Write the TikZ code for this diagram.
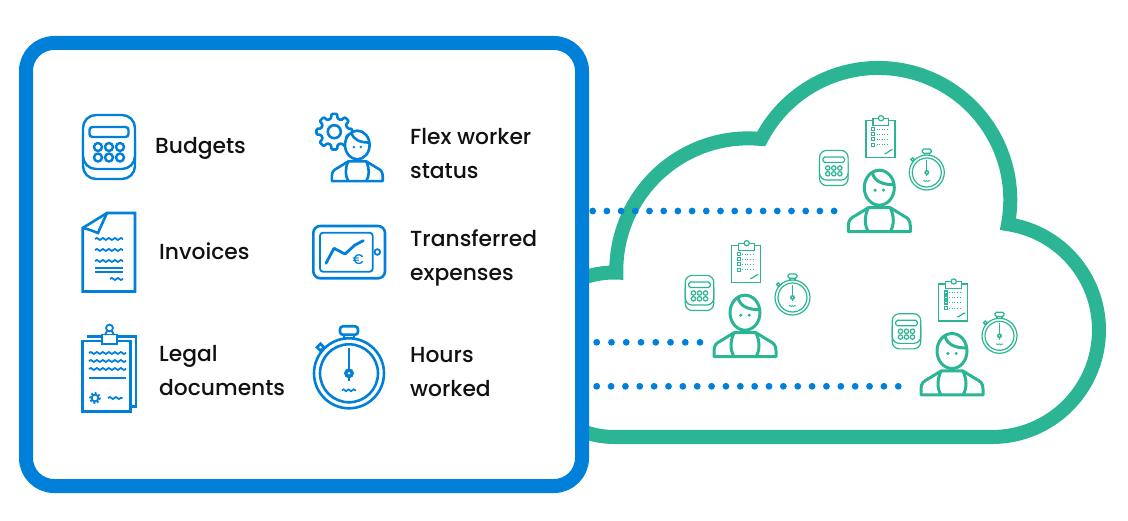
\documentclass[tikz,border=0pt]{standalone}
\usepackage{fontspec}
\setmainfont{Poppins Medium}
\usetikzlibrary{decorations.pathmorphing}
\definecolor{boxblue}{HTML}{0080D8}
\definecolor{cloudgreen}{HTML}{2BB594}
\definecolor{labelink}{HTML}{111111}
\tikzset{
  labeltext/.style={inner sep=0pt, align=left, anchor=west, text=labelink, font=\fontsize{21.8}{34}\selectfont},
  wavy/.style={decorate, decoration={snake, amplitude=1pt, segment length=6pt}},
  dotrow/.style={draw=boxblue, line width=6.8pt, line cap=round},
  blueicon/.style={color=boxblue, line width=2.6pt},
  calcicon/.pic={
    \draw[fill=white, rounded corners=#1*13pt] (-26,-20) rectangle (26,32);
    \draw[fill=white, rounded corners=#1*13pt] (-26,-32) rectangle (26,22);
    \draw[rounded corners=#1*3pt] (-19.5,-20) rectangle (19.5,-10);
    \draw (-11,0) circle[radius=4];
    \draw (0,0) circle[radius=4];
    \draw (11,0) circle[radius=4];
    \draw (-11,10.5) circle[radius=4];
    \draw (0,10.5) circle[radius=4];
    \draw (11,10.5) circle[radius=4];
  },
  watchicon/.pic={
    \draw (0,0) circle[radius=35];
    \draw (0,0) circle[radius=29];
    \draw[rounded corners=#1*3pt] (-9,-47) rectangle (9,-38.5);
    \draw (-5,-38.5) -- (-5,-35.5) (5,-38.5) -- (5,-35.5);
    \draw[rotate around={45:(-28.5,-26)}] (-31,-28.5) rectangle (-26,-23.5);
    \draw (0,-25) -- (0,8);
    \fill (0,0) circle[radius=5];
    \fill[white] (0,0) circle[radius=1.4];
    \draw[wavy, line width=#1*1.6pt, decoration={amplitude=#1*1pt, segment length=#1*5pt}] (-7,17) -- (7,17);
  },
  gearicon/.pic={
    \draw[line join=round, rounded corners=1pt] (-14:13.5) \foreach \gearangle in {0,45,...,315} { -- (\gearangle-14:13.5) -- (\gearangle-9:18) -- (\gearangle+9:18) -- (\gearangle+14:13.5) } -- cycle;
    \draw (0,0) circle[radius=6.5];
  },
  personicon/.pic={
    \draw[fill=white, line join=round] (-31,44) -- (-31,38) .. controls (-31,32) and (-28,30) .. (-24,28) -- (-11,20) -- (11,20) -- (24,28) .. controls (28,30) and (31,32) .. (31,38) -- (31,44) -- cycle;
    \draw (-11,20) .. controls (-15,29) and (-15,37) .. (-11,44);
    \draw (11,20) .. controls (15,29) and (15,37) .. (11,44);
    \draw[fill=white] (0,0) ellipse[x radius=15, y radius=17.5];
    \draw (-7,-15) .. controls (-5,-6) and (4,-3) .. (14.5,-3);
    \fill (-4.2,2.5) circle[radius=1.7];
    \fill (4.2,2.5) circle[radius=1.7];
  },
  listicon/.pic={
    \draw (-14.5,-18) rectangle (14.5,19);
    \draw[fill=white] (-7.5,-20.5) rectangle (8,-13.5);
    \draw[fill=white] (0.5,-20.5) circle[radius=2.6];
    \draw (-9,-11) rectangle (-6,-8);
    \draw (-9,-6) rectangle (-6,-3);
    \draw (-9,-1) rectangle (-6,2);
    \draw (-9,4.5) rectangle (-6,7.5);
    \draw[dotted, line width=.6pt] (-4,-9.5) -- (9,-9.5);
    \draw[dotted, line width=.6pt] (-4,-4.5) -- (9,-4.5);
    \draw[dotted, line width=.6pt] (-4,0.5) -- (9,0.5);
    \draw[dotted, line width=.6pt] (-4,6) -- (9,6);
    \draw (4,15) .. controls (7,15) and (9,11) .. (12,11);
  },
  crewgroup/.pic={
    \pic[line width=1.2pt, scale=.55] at (-45.5,-19.7) {calcicon=.55};
    \pic[line width=1.2pt] at (1.2,-49) {listicon};
    \pic[line width=1.2pt, scale=.5] at (47.5,-15.2) {watchicon=.5};
    \pic[line width=3pt] at (0,0) {personicon};
  }
}
\begin{document}
\begin{tikzpicture}[x=1pt, y=-1pt]
  \useasboundingbox (0,0) rectangle (1128,521);

  \draw[cloudgreen, line width=14pt] (565,423) .. controls (583,433) and (598,437) .. (615,437) -- (992,437) arc[start angle=90, end angle=-81.4, radius=107] arc[start angle=10.6, end angle=-152.5, radius=132] arc[start angle=-84.4, end angle=-181, radius=132] .. controls (600,272) and (585,276) .. (560,286);

  \draw[boxblue, line width=14pt, fill=white, rounded corners=28pt] (26,43) rectangle (582,486);

  \coordinate (dotsAstart) at (592.7,211);
  \coordinate (dotsAend) at (835,211);
  \coordinate (dotsBstart) at (596.7,342.3);
  \coordinate (dotsBend) at (701,342.3);
  \coordinate (dotsCstart) at (596.7,386.3);
  \coordinate (dotsCend) at (899,386.3);
  \draw[dotrow, dash pattern=on 0pt off 14.2pt] (dotsAstart) -- (dotsAend);
  \draw[dotrow, dash pattern=on 0pt off 14.76pt] (dotsBstart) -- (dotsBend);
  \draw[dotrow, dash pattern=on 0pt off 14.36pt] (dotsCstart) -- (dotsCend);

  \pic[blueicon, line width=2.4pt] at (109,147) {calcicon=1};
  \node[labeltext] (budgets) at (155,148) {Budgets};

  \begin{scope}[blueicon]
    \draw (82.7,228) -- (107,213) -- (135,213) -- (135,291.5) -- (82.7,291.5) -- cycle;
    \draw (107,213) .. controls (103,222) and (100,228) .. (98,233) .. controls (93,231) and (88,229) .. (82.7,228);
    \draw[line width=1.8pt, wavy] (95,239) -- (123,239);
    \draw[line width=1.8pt, wavy] (95,250) -- (123,250);
    \draw[line width=1.8pt, wavy] (95,261) -- (123,261);
    \draw[line width=1.8pt] (95,268) -- (123,268);
    \draw[line width=1.8pt] (95,272) -- (123,272);
    \draw[line width=1.8pt, wavy] (110,279) -- (123,279);
  \end{scope}
  \node[labeltext] (invoices) at (159,251) {Invoices};

  \begin{scope}[blueicon]
    \draw (87,336.5) -- (136,336.5) -- (136,406.5) -- (130.7,406.5);
    \draw[fill=white] (82.7,341) rectangle (130.7,411.5);
    \draw[fill=white, line width=1.8pt] (101.7,334.5) rectangle (117.3,344);
    \draw[line width=1.8pt] (109.5,328) circle[radius=3.4];
    \draw[line width=1.8pt] (107,331) -- (105,335) (112,331) -- (114,335);
    \draw[line width=1.8pt, wavy] (89,353) -- (126,353);
    \draw[line width=1.8pt, wavy] (89,361) -- (126,361);
    \draw[line width=1.8pt, wavy] (89,369) -- (126,369);
    \draw[line width=1.8pt] (89,378) -- (126,378);
    \draw[line width=1.8pt] (95,398) circle[radius=3.4];
    \draw[line width=1.8pt, dash pattern=on 1.8pt off 2pt] (95,398) circle[radius=5];
    \draw[line width=1.8pt, wavy] (108,398) -- (122.7,398);
  \end{scope}
  \node[labeltext] (legal) at (159,371) {Legal\\documents};

  \pic[blueicon] at (334.3,131.7) {gearicon};
  \pic[color=boxblue, line width=2.6pt, scale=.82] at (357.3,145) {personicon};
  \node[labeltext] (flexworker) at (410,154) {Flex worker\\status};

  \begin{scope}[blueicon]
    \draw[rounded corners=7pt] (313.3,226) rectangle (385,278.3);
    \draw[line width=1.8pt, rounded corners=3pt] (320,232.7) rectangle (372.7,271.7);
    \draw[line width=1.8pt] (377.3,252) circle[radius=2.8];
    \draw[line width=2.8pt, line cap=round, line join=round] (326,263.3) -- (334,248.3) -- (345,254) -- (355,245) -- (363.3,240.7);
  \end{scope}
  \node[inner sep=0pt, text=boxblue, font=\fontsize{14}{14}\selectfont] (euro) at (358.3,260) {€};
  \node[labeltext] (expenses) at (410,258) {Transferred\\expenses};

  \pic[blueicon] at (349,373.3) {watchicon=1};
  \node[labeltext] (hours) at (410,372) {Hours\\worked};

  \pic[color=cloudgreen] at (745,312.7) {crewgroup};
  \pic[color=cloudgreen] at (879.3,187.7) {crewgroup};
  \pic[color=cloudgreen] at (952,351) {crewgroup};
\end{tikzpicture}
\end{document}
